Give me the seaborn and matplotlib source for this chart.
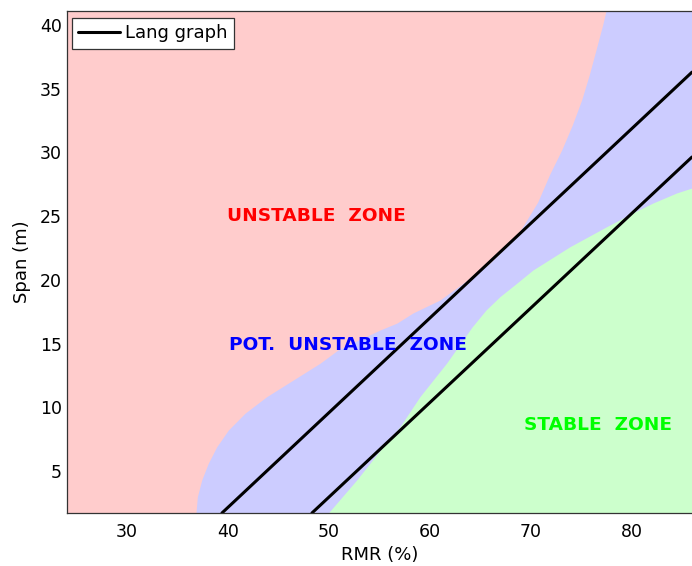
import numpy as np
import pandas as pd
import matplotlib
matplotlib.use("Agg")
import matplotlib.pyplot as plt
from matplotlib.lines import Line2D
import seaborn as sns

# ---------------- data ----------------
rmr_range = [24.0, 86.0]
span_range = [1.7, 41.1]
x_ticks = [30, 40, 50, 60, 70, 80]
y_ticks = [5, 10, 15, 20, 25, 30, 35, 40]

# Lang graph lines
lang_upper_rmr = [39.41, 86.0]
lang_upper_span = [1.7, 36.3]
lang_lower_rmr = [48.33, 86.0]
lang_lower_span = [1.7, 29.64]

# boundary unstable / potentially unstable (RMR as function of span)
unstable_edge_span = [1.7, 2.98, 4.29, 5.60, 6.90, 8.21, 9.53, 10.83, 12.14, 13.45,
                      14.49, 15.30, 16.06, 16.61, 17.40, 18.42, 19.90, 21.32, 23.50,
                      26.10, 28.30, 30.19, 32.15, 34.12, 36.08, 38.04, 40.0, 41.1]
unstable_edge_rmr = [36.83, 36.97, 37.40, 38.05, 38.89, 40.04, 41.69, 43.84, 46.48, 49.12,
                     50.90, 53.00, 55.07, 56.76, 58.34, 61.02, 63.60, 65.97, 68.70,
                     70.70, 71.90, 73.08, 74.13, 75.06, 75.81, 76.48, 77.14, 77.47]

# boundary potentially unstable / stable
stable_edge_span = [1.7, 4.29, 6.90, 8.47, 10.83, 13.47, 16.30, 17.63, 18.68, 19.73,
                    20.77, 22.60, 24.17, 25.26, 26.03, 26.82, 27.21]
stable_edge_rmr = [49.95, 52.76, 55.37, 57.05, 59.03, 61.68, 64.20, 65.58, 66.96, 68.62,
                   70.23, 73.90, 77.54, 80.14, 82.13, 84.48, 86.0]

zone_names = ["UNSTABLE  ZONE", "POT.  UNSTABLE  ZONE", "STABLE  ZONE"]
zone_label_rmr = [48.8, 51.9, 76.7]
zone_label_span = [25.0, 14.9, 8.6]
zone_text_colors = ["#ff0000", "#0000ff", "#00ff00"]
zone_fill_colors = ["#ffcccc", "#ccccff", "#ccffcc"]

# ---------------- plot ----------------
sns.set_theme(style="white")
plt.rcParams["font.family"] = ["DejaVu Sans"]

W, H = 692, 566
fig = plt.figure(figsize=(W / 100, H / 100), dpi=100)
ax = fig.add_axes([66.5 / W, 53 / H, (W - 66.5) / W, 502 / H])

ax.set_facecolor(zone_fill_colors[1])
ax.fill_betweenx(unstable_edge_span, rmr_range[0], unstable_edge_rmr,
                 color=zone_fill_colors[0], lw=0, zorder=0)
ax.fill_betweenx(stable_edge_span, stable_edge_rmr, rmr_range[1],
                 color=zone_fill_colors[2], lw=0, zorder=0)

lang_df = pd.DataFrame({
    "RMR": lang_upper_rmr + lang_lower_rmr,
    "Span": lang_upper_span + lang_lower_span,
    "curve": ["upper"] * len(lang_upper_rmr) + ["lower"] * len(lang_lower_rmr),
})
sns.lineplot(data=lang_df, x="RMR", y="Span", units="curve", estimator=None,
             color="black", lw=2.2, ax=ax, legend=False, sort=False)

for name, xr, ys, c in zip(zone_names, zone_label_rmr, zone_label_span, zone_text_colors):
    ax.text(xr, ys, name, color=c, fontsize=13.3, fontweight="bold",
            ha="center", va="center")

ax.set_xlim(*rmr_range)
ax.set_ylim(*span_range)
ax.set_xticks(x_ticks)
ax.set_yticks(y_ticks)
ax.tick_params(axis="both", length=0, labelsize=12.5, colors="black")
ax.tick_params(axis="x", pad=7)
ax.tick_params(axis="y", pad=3.5)
ax.set_xlabel("RMR (%)", fontsize=13, labelpad=4, color="black")
ax.set_ylabel("Span (m)", fontsize=13, labelpad=6, color="black")

for s in ["top", "left", "bottom"]:
    ax.spines[s].set_visible(True)
    ax.spines[s].set_color("#333333")
    ax.spines[s].set_linewidth(0.9)
ax.spines["right"].set_visible(False)

leg = ax.legend(handles=[Line2D([0], [0], color="black", lw=2.2)], labels=["Lang graph"],
                loc="upper left", bbox_to_anchor=(0.009, 0.986), borderaxespad=0,
                fontsize=13, handlelength=2.3, handletextpad=0.3, borderpad=0.35,
                fancybox=False, framealpha=1, facecolor="white", edgecolor="#333333")
leg.get_frame().set_linewidth(0.9)
for t in leg.get_texts():
    t.set_color("black")
ax.grid(False)

fig.savefig("out.png", dpi=100)
